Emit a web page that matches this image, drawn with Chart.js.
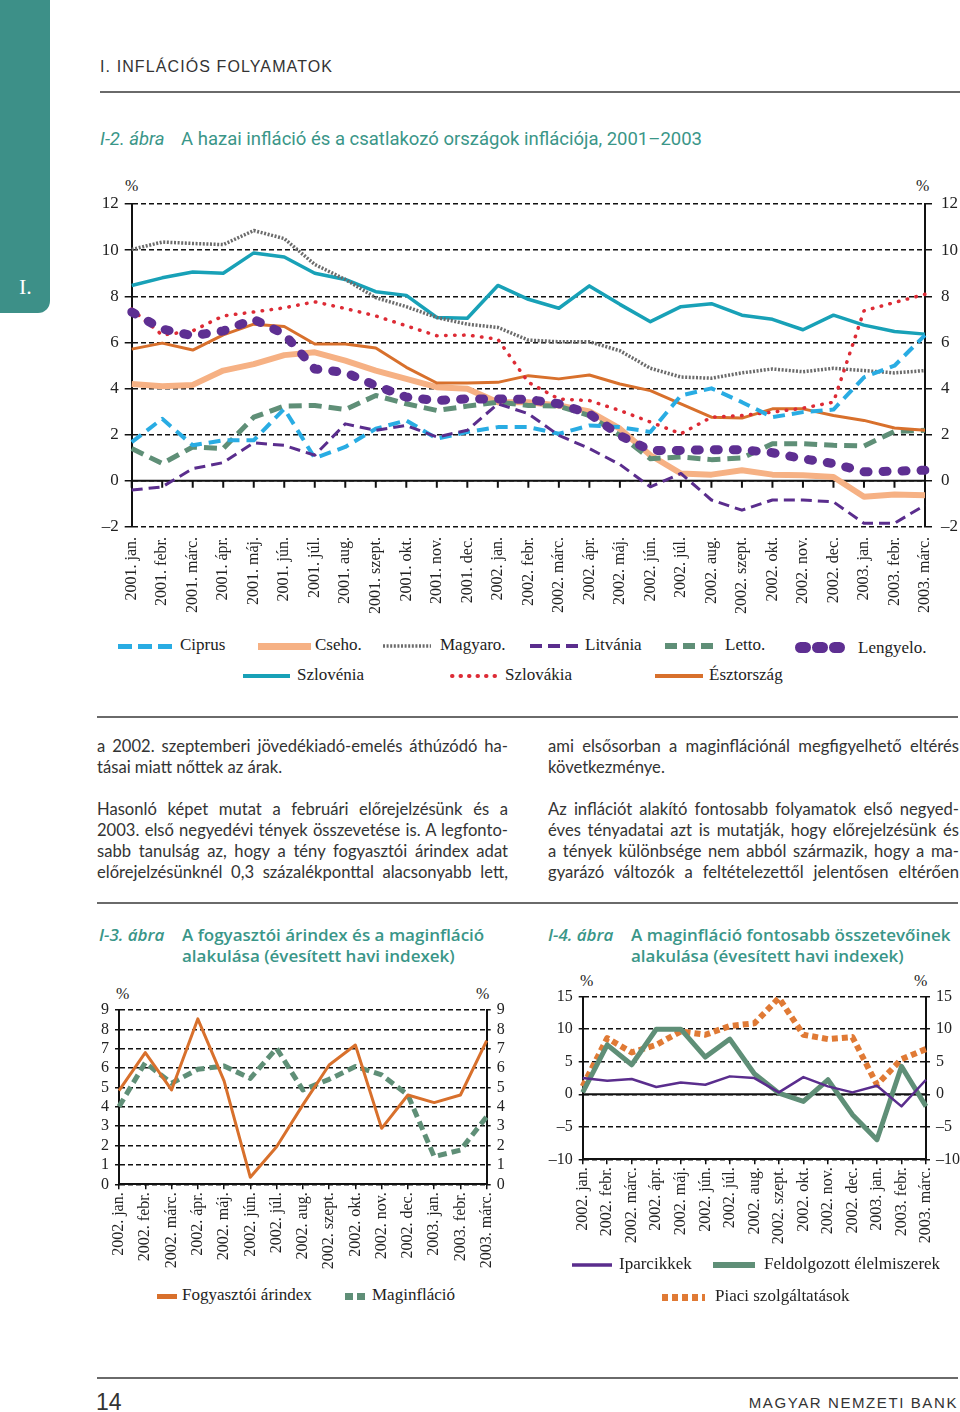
<!DOCTYPE html>
<html lang="hu">
<head>
<meta charset="utf-8">
<script src="https://cdn.jsdelivr.net/npm/chart.js@4.4.1/dist/chart.umd.min.js"></script>
<style>
  html,body{margin:0;padding:0;background:#fff;}
  body{width:960px;height:1412px;position:relative;overflow:hidden;font-family:"Liberation Serif",serif;color:#222;}
  .abs{position:absolute;white-space:nowrap;}
  .tab{position:absolute;left:0;top:0;width:50px;height:313px;background:#3d9088;border-bottom-right-radius:12px;}
  .tab span{position:absolute;left:19px;top:274px;color:#fff;font:22px "Liberation Serif",serif;}
  .hdr{left:100px;top:58px;font:16px "Liberation Sans",sans-serif;letter-spacing:1.1px;color:#333;}
  .rule{position:absolute;height:2px;background:#6a6a6a;}
  .t2{left:100px;top:128px;font:18.5px Roboto,sans-serif;color:#3a9688;}
  .t2 i{margin-right:12px;}
  .st{font:17px "Open Sans",sans-serif;font-weight:600;color:#3a9688;line-height:21px;}
  .body{position:absolute;width:411px;font:16.6px Lato,sans-serif;color:#333;line-height:21px;}
  .body div{text-align:justify;text-align-last:justify;white-space:nowrap;}
  .body div.last{text-align-last:left;}
  .body div.gap{height:21px;}
  .pct{font:16px "Liberation Serif",serif;color:#222;}
  .lg{font:17px "Liberation Serif",serif;color:#222;}
  canvas{position:absolute;}
</style>
</head>
<body>
<div class="tab"><span>I.</span></div>
<div class="abs hdr">I. INFLÁCIÓS FOLYAMATOK</div>
<div class="rule" style="left:100px;top:91px;width:860px;"></div>
<div class="abs t2"><i>I-2. ábra</i> A hazai infláció és a csatlakozó országok inflációja, 2001–2003</div>

<div class="abs pct" style="left:125px;top:177px;">%</div>
<div class="abs pct" style="left:916px;top:177px;">%</div>
<canvas id="main"></canvas>
<div id="mainLegend"></div>

<div class="rule" style="left:97px;top:716px;width:861px;"></div>
<div class="body" style="left:97px;top:736px;">
  <div>a 2002. szeptemberi jövedékiadó-emelés áthúzódó ha-</div>
  <div class="last">tásai miatt nőttek az árak.</div>
  <div class="gap"></div>
  <div>Hasonló képet mutat a februári előrejelzésünk és a</div>
  <div>2003. első negyedévi tények összevetése is. A legfonto-</div>
  <div>sabb tanulság az, hogy a tény fogyasztói árindex adat</div>
  <div>előrejelzésünknél 0,3 százalékponttal alacsonyabb lett,</div>
</div>
<div class="body" style="left:548px;top:736px;">
  <div>ami elsősorban a maginflációnál megfigyelhető eltérés</div>
  <div class="last">következménye.</div>
  <div class="gap"></div>
  <div>Az inflációt alakító fontosabb folyamatok első negyed-</div>
  <div>éves tényadatai azt is mutatják, hogy előrejelzésünk és</div>
  <div>a tények különbsége nem abból származik, hogy a ma-</div>
  <div>gyarázó változók a feltételezettől jelentősen eltérően</div>
</div>
<div class="rule" style="left:97px;top:902px;width:861px;"></div>

<div class="abs st" style="left:99px;top:924px;"><i>I-3. ábra</i></div>
<div class="abs st" style="left:182px;top:924px;">A fogyasztói árindex és a maginfláció<br>alakulása (évesített havi indexek)</div>
<div class="abs st" style="left:548px;top:924px;"><i>I-4. ábra</i></div>
<div class="abs st" style="left:631px;top:924px;">A maginfláció fontosabb összetevőinek<br>alakulása (évesített havi indexek)</div>

<div class="abs pct" style="left:116px;top:985px;">%</div>
<div class="abs pct" style="left:476px;top:985px;">%</div>
<div class="abs pct" style="left:580px;top:972px;">%</div>
<div class="abs pct" style="left:914px;top:972px;">%</div>
<canvas id="c3"></canvas>
<canvas id="c4"></canvas>
<div id="smallLegend"></div>

<div class="rule" style="left:97px;top:1377px;width:861px;"></div>
<div class="abs" style="left:96px;top:1389px;font:23px 'Liberation Sans',sans-serif;color:#333;">14</div>
<div class="abs" style="right:2px;top:1394px;font:15px 'Liberation Sans',sans-serif;letter-spacing:1.6px;color:#333;">MAGYAR NEMZETI BANK</div>

<script>
// ---------- DATA ----------
const months2001_2003 = ['2001. jan.','2001. febr.','2001. márc.','2001. ápr.','2001. máj.','2001. jún.','2001. júl.','2001. aug.','2001. szept.','2001. okt.','2001. nov.','2001. dec.',
  '2002. jan.','2002. febr.','2002. márc.','2002. ápr.','2002. máj.','2002. jún.','2002. júl.','2002. aug.','2002. szept.','2002. okt.','2002. nov.','2002. dec.',
  '2003. jan.','2003. febr.','2003. márc.'];
const ciprus    = [1.68,2.69,1.54,1.76,1.76,3.12,0.99,1.47,2.26,2.62,1.83,2.12,2.33,2.33,2.04,2.40,2.33,2.12,3.70,4.01,3.41,2.76,2.98,3.09,4.49,4.99,6.32];
const cseho     = [4.20,4.10,4.16,4.78,5.06,5.45,5.57,5.21,4.78,4.42,4.06,3.99,3.41,3.41,3.27,3.01,2.26,1.11,0.32,0.27,0.46,0.27,0.24,0.17,-0.69,-0.59,-0.62];
const magyaro   = [10.03,10.35,10.29,10.24,10.85,10.50,9.38,8.73,7.94,7.55,7.08,6.79,6.65,6.10,6.03,6.03,5.64,4.88,4.50,4.45,4.68,4.85,4.73,4.88,4.78,4.68,4.78];
const litvania  = [-0.40,-0.26,0.53,0.79,1.65,1.54,1.11,2.47,2.19,2.40,1.90,2.19,3.34,2.91,1.97,1.40,0.71,-0.26,0.32,-0.83,-1.27,-0.83,-0.83,-0.91,-1.84,-1.84,-1.05];
const letto     = [1.40,0.75,1.47,1.40,2.76,3.24,3.27,3.09,3.70,3.34,3.05,3.24,3.41,3.27,3.24,2.83,1.97,0.96,1.04,0.92,0.99,1.61,1.61,1.54,1.51,2.14,2.19];
const lengyelo  = [7.32,6.58,6.29,6.50,7.00,6.36,4.85,4.70,4.13,3.63,3.48,3.55,3.55,3.53,3.34,2.91,1.97,1.32,1.32,1.35,1.35,1.22,0.96,0.75,0.39,0.42,0.46];
const szlovenia = [8.47,8.80,9.05,9.00,9.88,9.70,9.00,8.73,8.20,8.04,7.08,7.05,8.47,7.87,7.48,8.45,7.65,6.90,7.55,7.68,7.18,7.00,6.55,7.18,6.75,6.47,6.36];
const szlovakia = [7.44,6.32,6.50,7.15,7.32,7.50,7.76,7.47,7.15,6.72,6.29,6.32,6.14,4.27,3.55,3.48,3.05,2.55,2.04,2.76,2.83,2.98,3.15,3.41,7.37,7.73,8.09];
const esztorszag= [5.71,5.97,5.67,6.33,6.79,6.69,5.93,5.93,5.76,4.92,4.24,4.24,4.27,4.56,4.42,4.59,4.20,3.91,3.34,2.76,2.72,3.12,3.12,2.83,2.62,2.29,2.19];
const mainTicks = [-2,0,2,4,6,8,10,12];

const months2002_2003 = ['2002. jan.','2002. febr.','2002. márc.','2002. ápr.','2002. máj.','2002. jún.','2002. júl.','2002. aug.','2002. szept.','2002. okt.','2002. nov.','2002. dec.','2003. jan.','2003. febr.','2003. márc.'];
const fogyasztoi  = [4.84,6.80,4.87,8.54,5.34,0.36,1.94,4.10,6.16,7.19,2.89,4.61,4.22,4.61,7.42];
const maginflacio = [4.01,6.28,5.22,5.94,6.11,5.47,7.02,4.87,5.42,6.08,5.65,4.61,1.43,1.77,3.49];
const c3Ticks = [0,1,2,3,4,5,6,7,8,9];

const iparcikkek   = [2.49,2.08,2.34,1.11,1.82,1.47,2.75,2.49,0.29,2.64,1.21,0.29,1.31,-1.86,2.23];
const feldolgozott = [0.29,7.60,4.54,10.00,10.00,5.72,8.48,3.15,0.18,-1.10,2.23,-3.14,-6.99,4.28,-1.86];
const piaci        = [1.21,8.64,6.43,7.60,9.66,9.15,10.50,10.90,14.80,9.15,8.48,8.79,1.47,5.40,6.95];
const c4Ticks = [-10,-5,0,5,10,15];

// ---------- STYLES ----------
const C = {
  ciprus:'#29ace3', cseho:'#f6b184', magyaro:'#6b6b6b', litvania:'#5a2d8d', letto:'#5f8f77',
  lengyelo:'#5e2f92', szlovenia:'#18a1b7', szlovakia:'#dd2b35', esztorszag:'#d8702c',
  orange:'#d8702c', green:'#5f8f77', purple:'#5a2d8d', piaci:'#e07a35'
};
const fmt = v => (v < 0 ? '–' + Math.abs(v) : String(v));

const zeroLine = {
  id: 'zeroLine',
  beforeDatasetsDraw(chart, args, opts) {
    if (!opts || !opts.enabled) return;
    const {ctx, chartArea, scales} = chart;
    const y = scales.y.getPixelForValue(0);
    ctx.save();
    ctx.setLineDash([]);
    ctx.strokeStyle = '#111';
    ctx.lineWidth = 2;
    ctx.beginPath();
    ctx.moveTo(chartArea.left, y); ctx.lineTo(chartArea.right, y);
    if (opts.ticks) {
      scales.x.ticks.forEach((t, i) => {
        const x = scales.x.getPixelForTick(i);
        ctx.moveTo(x, y); ctx.lineTo(x, y + opts.ticks);
      });
    }
    ctx.stroke();
    ctx.restore();
  }
};
Chart.register(zeroLine);

function place(id, left, top, w, h) {
  const c = document.getElementById(id);
  c.style.left = left + 'px'; c.style.top = top + 'px';
  c.width = w; c.height = h; c.style.width = w + 'px'; c.style.height = h + 'px';
  return c;
}

function ds(label, data, color, width, dash, cap) {
  return { label, data, borderColor: color, backgroundColor: color, borderWidth: width,
    borderDash: dash || [], borderCapStyle: cap || 'butt', borderJoinStyle: 'round',
    pointRadius: 0, tension: 0, fill: false };
}

function makeChart(id, cfg) {
  const c = place(id, cfg.left, cfg.top, cfg.w, cfg.h);
  const leftW = cfg.areaLeft - cfg.left;
  const rightW = cfg.left + cfg.w - cfg.areaRight;
  const topPad = cfg.areaTop - cfg.top;
  const xH = cfg.top + cfg.h - cfg.areaBottom;
  const yTicks = cfg.yTicks;
  const yBase = {
    type: 'linear', min: yTicks[0], max: yTicks[yTicks.length - 1],
    afterBuildTicks: s => { s.ticks = yTicks.map(v => ({ value: v })); },
    ticks: { callback: fmt, color: '#222', font: { family: 'Liberation Serif', size: cfg.yFont }, autoSkip: false },
  };
  return new Chart(c, {
    type: 'line',
    data: { labels: cfg.labels, datasets: cfg.datasets },
    options: {
      responsive: false, animation: false,
      layout: { padding: { top: topPad, left: 0, right: 0, bottom: 0 } },
      plugins: { legend: { display: false }, tooltip: { enabled: false }, zeroLine: cfg.zero },
      scales: {
        x: {
          type: 'category', offset: false,
          afterFit: s => { s.height = xH; },
          border: { display: cfg.xBorder, color: '#111', width: 2 },
          grid: { display: cfg.xBorder, drawOnChartArea: false, drawTicks: true, tickLength: cfg.xTickLen, color: '#111', lineWidth: 1.5 },
          ticks: { minRotation: 90, maxRotation: 90, autoSkip: false, padding: cfg.xPad, color: '#222',
                   font: { family: 'Liberation Serif', size: cfg.xFont } }
        },
        y: Object.assign({}, yBase, {
          position: 'left',
          afterFit: s => { s.width = leftW; },
          border: { display: true, color: '#111', width: 2, dash: cfg.gridDash },
          grid: { color: '#111', lineWidth: 1.5, drawTicks: true, tickLength: cfg.yTickLen, tickBorderDash: [] },
          ticks: Object.assign({}, yBase.ticks, { padding: cfg.yPadL })
        }),
        y2: Object.assign({}, yBase, {
          position: 'right',
          afterFit: s => { s.width = rightW; },
          border: { display: true, color: '#111', width: 2 },
          grid: { drawOnChartArea: false, drawTicks: true, tickLength: cfg.yTickLen, color: '#111', lineWidth: 1.5 },
          ticks: Object.assign({}, yBase.ticks, { padding: cfg.yPadR })
        })
      }
    }
  });
}

// ---------- MAIN CHART ----------
makeChart('main', {
  left: 60, top: 170, w: 900, h: 460,
  areaLeft: 131.7, areaRight: 925, areaTop: 204, areaBottom: 527,
  labels: months2001_2003, yTicks: mainTicks,
  yFont: 17, xFont: 16, xPad: 10, xTickLen: 0, xBorder: false,
  yTickLen: 7, yPadL: 6, yPadR: 9, gridDash: [5, 3],
  zero: { enabled: true, ticks: 7 },
  datasets: [
    ds('Lengyelo.', lengyelo, C.lengyelo, 9, [4, 15], 'round'),
    ds('Litvánia', litvania, C.litvania, 3, [11, 6]),
    ds('Ciprus', ciprus, C.ciprus, 4, [12, 7]),
    ds('Szlovákia', szlovakia, C.szlovakia, 3.5, [0.5, 8.5], 'round'),
    ds('Magyaro.', magyaro, C.magyaro, 3.5, [2, 1.6]),
    ds('Észtország', esztorszag, C.esztorszag, 3),
    ds('Szlovénia', szlovenia, C.szlovenia, 3.5),
    ds('Letto.', letto, C.letto, 5, [13, 7]),
    ds('Cseho.', cseho, C.cseho, 6)
  ]
});

// ---------- I-3 ----------
makeChart('c3', {
  left: 80, top: 990, w: 440, h: 290,
  areaLeft: 119, areaRight: 486.7, areaTop: 1010, areaBottom: 1184.3,
  labels: months2002_2003, yTicks: c3Ticks,
  yFont: 16, xFont: 16, xPad: 3, xTickLen: 5, xBorder: true,
  yTickLen: 4, yPadL: 6, yPadR: 6, gridDash: [5, 3],
  zero: { enabled: false },
  datasets: [
    ds('Fogyasztói árindex', fogyasztoi, C.orange, 3),
    ds('Maginfláció', maginflacio, C.green, 5, [9, 5])
  ]
});

// ---------- I-4 ----------
makeChart('c4', {
  left: 530, top: 975, w: 430, h: 280,
  areaLeft: 582.7, areaRight: 926, areaTop: 996.7, areaBottom: 1159.3,
  labels: months2002_2003, yTicks: c4Ticks,
  yFont: 16, xFont: 16, xPad: 3, xTickLen: 5, xBorder: true,
  yTickLen: 4, yPadL: 6, yPadR: 6, gridDash: [5, 3],
  zero: { enabled: true, ticks: 0 },
  datasets: [
    ds('Iparcikkek', iparcikkek, C.purple, 2.5),
    ds('Feldolgozott élelmiszerek', feldolgozott, C.green, 5),
    ds('Piaci szolgáltatások', piaci, C.piaci, 6, [6, 4])
  ]
});

// ---------- LEGENDS (HTML swatches) ----------
function swatch(x, y, w, color, width, dash, cap) {
  const h = Math.ceil(width) + 4;
  return `<svg class="abs" style="left:${x}px;top:${y - h / 2}px" width="${w}" height="${h}">
    <line x1="${cap === 'round' ? width / 2 : 0}" y1="${h / 2}" x2="${cap === 'round' ? w - width / 2 : w}" y2="${h / 2}" stroke="${color}" stroke-width="${width}"
      ${dash ? `stroke-dasharray="${dash.join(' ')}"` : ''} stroke-linecap="${cap || 'butt'}"/></svg>`;
}
function label(x, y, text) { return `<div class="abs lg" style="left:${x}px;top:${y - 11}px;">${text}</div>`; }

const mainLegendItems = [
  [118, 646, 54, C.ciprus, 5, [14, 6], null, 180, 'Ciprus'],
  [258, 646, 53, C.cseho, 7, null, null, 315, 'Cseho.'],
  [383, 646, 48, C.magyaro, 3.5, [2, 1.6], null, 440, 'Magyaro.'],
  [530, 646, 48, C.litvania, 4, [12, 6], null, 585, 'Litvánia'],
  [665, 646, 48, C.letto, 6, [12, 6], null, 725, 'Letto.'],
  [795, 647, 50, C.lengyelo, 11, [5, 12], 'round', 858, 'Lengyelo.'],
  [243, 676, 47, C.szlovenia, 4, null, null, 297, 'Szlovénia'],
  [450, 676, 47, C.szlovakia, 4, [0.5, 8], 'round', 505, 'Szlovákia'],
  [655, 676, 48, C.esztorszag, 4, null, null, 709, 'Észtország']
];
let html = '';
mainLegendItems.forEach(it => { html += swatch(it[0], it[1], it[2], it[3], it[4], it[5], it[6]) + label(it[7], it[8] === 'Lengyelo.' ? it[1] + 2 : it[1], it[8]); });
document.getElementById('mainLegend').innerHTML = html;

const smallLegendItems = [
  [157, 1296, 20, C.orange, 5, null, null, 182, 'Fogyasztói árindex'],
  [345, 1296, 20, C.green, 7, [8, 4], null, 372, 'Maginfláció'],
  [572, 1265, 40, C.purple, 3.5, null, null, 619, 'Iparcikkek'],
  [713, 1265, 42, C.green, 6, null, null, 764, 'Feldolgozott élelmiszerek'],
  [662, 1297, 43, C.piaci, 7, [6, 4], null, 715, 'Piaci szolgáltatások']
];
html = '';
smallLegendItems.forEach(it => { html += swatch(it[0], it[1], it[2], it[3], it[4], it[5], it[6]) + label(it[7], it[1], it[8]); });
document.getElementById('smallLegend').innerHTML = html;
</script>
</body>
</html>
